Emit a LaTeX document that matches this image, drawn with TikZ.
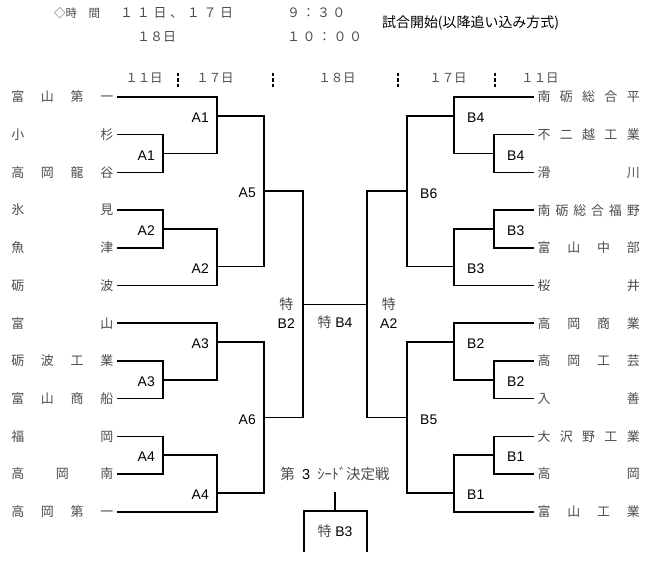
\documentclass[tikz,border=0pt]{standalone}
\usepackage{fontspec}
\setmainfont{Liberation Sans}
\newfontfamily\jp{Noto Sans CJK JP}
\usepackage{tikz}
\usetikzlibrary{calc}
% spread the characters of a name over a fixed width
\newcommand{\spreadtxt}[2]{\makebox[#1][s]{\expandafter\spreadfirst#2\relax}}
\def\spreadfirst#1{#1\spreadrest}
\def\spreadrest#1{\ifx\relax#1\else\hfill#1\expandafter\spreadrest\fi}
\newcommand{\toku}{{\jp\color{black!70}特}}

\begin{document}
\begin{tikzpicture}[
    x=1bp, y=-1bp,
    bracket/.style={line width=1.6bp},
    day sep/.style={line width=2bp, dash pattern=on 3.5bp off 2bp},
    jptext/.style={font=\jp\fontsize{13}{13}\selectfont, text=black!70},
    team left/.style={jptext, anchor=east, inner xsep=3.5bp, inner ysep=0pt},
    team right/.style={jptext, anchor=west, inner xsep=3.5bp, inner ysep=0pt},
    round left/.style={anchor=east, inner sep=0pt, xshift=-8bp, yshift=-2bp, font=\fontsize{14}{19}\selectfont, align=center},
    round right/.style={anchor=west, inner sep=0pt, xshift=13bp, yshift=-2bp, font=\fontsize{14}{19}\selectfont, align=center},
    day head/.style={jptext, font=\jp\fontsize{12.5}{13}\selectfont, inner sep=0pt}
    ]
    \path[use as bounding box, fill=white] (0,0) rectangle (656,562);

    % header
    \node[jptext, anchor=west, inner sep=0pt, font=\jp\fontsize{11.5}{12}\selectfont] (hdTime) at (54,13) {◇時　間};
    \node[jptext, anchor=west, inner sep=0pt] (hdDayA) at (120,13) {\spreadtxt{113bp}{１１日、１７日}};
    \node[jptext, anchor=west, inner sep=0pt] (hdClockA) at (287,13) {\spreadtxt{58bp}{９：３０}};
    \node[jptext, anchor=west, inner sep=0pt] (hdDayB) at (137,37) {\spreadtxt{36bp}{１８日}};
    \node[jptext, anchor=west, inner sep=0pt] (hdClockB) at (287,37) {\spreadtxt{75bp}{１０：００}};
    \node[anchor=west, inner sep=0pt, font=\jp\fontsize{14}{14}\selectfont] (hdNote) at (382,23) {試合開始(以降追い込み方式)};

    % days
    \node[day head] (dayL11) at (144,78) {１１日};
    \node[day head] (dayL17) at (215,78) {１７日};
    \node[day head] (day18) at (337,78) {１８日};
    \node[day head] (dayR17) at (448,78) {１７日};
    \node[day head] (dayR11) at (540,78) {１１日};
    \foreach \x in {178,273,398,495}
        \draw[day sep] (\x,73) -- (\x,88);

    % teams
    \foreach \nm [count=\i] in {富山第一,小杉,高岡龍谷,氷見,魚津,砺波,富山,砺波工業,富山商船,福岡,高岡南,高岡第一}
        \node[team left] (L\i) at (117,{97+37.7*(\i-1)}) {\spreadtxt{102bp}{\nm}};
    \foreach \nm [count=\i] in {南砺総合平,不二越工業,滑川,南砺総合福野,富山中部,桜井,高岡商業,高岡工芸,入善,大沢野工業,高岡,富山工業}
        \node[team right] (R\i) at (534,{97+37.7*(\i-1)}) {\spreadtxt{102bp}{\nm}};

    % junctions left
    \coordinate (a1) at (163,153.55);
    \coordinate (b1) at (217,115.85);
    \coordinate (a2) at (163,228.95);
    \coordinate (b2) at (217,266.65);
    \coordinate (c1) at (264,191.25);
    \coordinate (a3) at (163,379.75);
    \coordinate (b3) at (217,342.05);
    \coordinate (a4) at (163,455.15);
    \coordinate (b4) at (217,492.85);
    \coordinate (c2) at (264,417.45);
    \coordinate (d1) at (303,304.35);
    % junctions right
    \coordinate (e1) at (494,153.55);
    \coordinate (f1) at (454,115.85);
    \coordinate (e2) at (494,228.95);
    \coordinate (f2) at (454,266.65);
    \coordinate (g1) at (407,191.25);
    \coordinate (e3) at (494,379.75);
    \coordinate (f3) at (454,342.05);
    \coordinate (e4) at (494,455.15);
    \coordinate (f4) at (454,492.85);
    \coordinate (g2) at (407,417.45);
    \coordinate (h1) at (367,304.35);

    % left brackets
    \draw[bracket] (L2.east) -| (a1) |- (L3.east);
    \draw[bracket] (L1.east) -| (b1) |- (a1);
    \draw[bracket] (L4.east) -| (a2) |- (L5.east);
    \draw[bracket] (a2) -| (b2) |- (L6.east);
    \draw[bracket] (b1) -| (c1) |- (b2);
    \draw[bracket] (L8.east) -| (a3) |- (L9.east);
    \draw[bracket] (L7.east) -| (b3) |- (a3);
    \draw[bracket] (L10.east) -| (a4) |- (L11.east);
    \draw[bracket] (a4) -| (b4) |- (L12.east);
    \draw[bracket] (b3) -| (c2) |- (b4);
    \draw[bracket] (c1) -| (d1) |- (c2);
    % right brackets
    \draw[bracket] (R2.west) -| (e1) |- (R3.west);
    \draw[bracket] (R1.west) -| (f1) |- (e1);
    \draw[bracket] (R4.west) -| (e2) |- (R5.west);
    \draw[bracket] (e2) -| (f2) |- (R6.west);
    \draw[bracket] (f1) -| (g1) |- (f2);
    \draw[bracket] (R8.west) -| (e3) |- (R9.west);
    \draw[bracket] (R7.west) -| (f3) |- (e3);
    \draw[bracket] (R10.west) -| (e4) |- (R11.west);
    \draw[bracket] (e4) -| (f4) |- (R12.west);
    \draw[bracket] (f3) -| (g2) |- (f4);
    \draw[bracket] (g1) -| (h1) |- (g2);
    % final
    \draw[bracket] (d1) -- (h1) node[midway, yshift=-18bp, font=\fontsize{14}{14}\selectfont] (tB4) {\toku{} B4};

    % round labels
    \node[round left] (tA1a) at (a1) {A1};
    \node[round left] (tA1b) at (b1) {A1};
    \node[round left] (tA2a) at (a2) {A2};
    \node[round left] (tA2b) at (b2) {A2};
    \node[round left] (tA5) at (c1) {A5};
    \node[round left] (tA3a) at (a3) {A3};
    \node[round left] (tA3b) at (b3) {A3};
    \node[round left] (tA4a) at (a4) {A4};
    \node[round left] (tA4b) at (b4) {A4};
    \node[round left] (tA6) at (c2) {A6};
    \node[round left, yshift=-6.6bp] (tB2) at (d1) {\toku\\B2};
    \node[round right] (tB4a) at (e1) {B4};
    \node[round right] (tB4b) at (f1) {B4};
    \node[round right] (tB3a) at (e2) {B3};
    \node[round right] (tB3b) at (f2) {B3};
    \node[round right] (tB6) at (g1) {B6};
    \node[round right] (tB2a) at (e3) {B2};
    \node[round right] (tB2b) at (f3) {B2};
    \node[round right] (tB1a) at (e4) {B1};
    \node[round right] (tB1b) at (f4) {B1};
    \node[round right] (tB5) at (g2) {B5};
    \node[round right, yshift=-6.6bp] (tA2) at (h1) {\toku\\A2};

    % third seed match
    \node[inner xsep=0pt, inner ysep=11bp, font=\fontsize{14.5}{14}\selectfont] (tSeed) at (335,474) {{\jp\color{black!70}第}\enspace 3\enspace{\jp\color{black!70}ｼｰﾄﾞ決定戦}};
    \coordinate (k1) at (335,511);
    \coordinate (kL) at (304,552);
    \coordinate (kR) at (367,552);
    \draw[bracket] (tSeed.south) -- (k1);
    \draw[bracket] (kL) |- (k1) -| (kR);
    \node[font=\fontsize{14}{14}\selectfont] (tB3) at (335,531) {\toku{} B3};
\end{tikzpicture}
\end{document}
